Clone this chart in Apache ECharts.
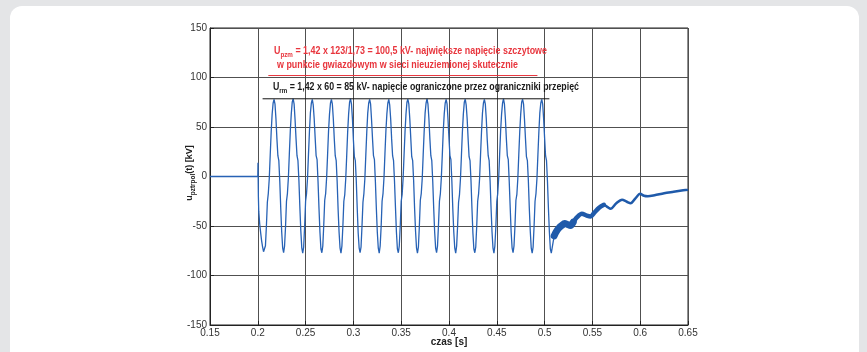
<!DOCTYPE html>
<html><head><meta charset="utf-8">
<script src="https://cdn.jsdelivr.net/npm/echarts@6/dist/echarts.min.js"></script>
<style>
html,body{margin:0;padding:0;background:#e4e5e7;overflow:hidden;}
#panel{position:absolute;left:10px;top:6px;width:849px;height:380px;border-radius:12px;background:#fff;}
#c{position:absolute;left:0;top:0;width:867px;height:352px;}
</style>
</head><body><div id="panel"></div><div id="c"></div>
<script>
// ---- data ----
const xMin = 0.15, xMax = 0.65, xStep = 0.05;
const yMin = -150, yMax = 150, yStep = 50;

// flat part and switching spike
const preTimes  = [0.15, 0.2, 0.2002, 0.2006];
const preValues = [0, 0, 14, -20];

// oscillation, sampled every 1 ms starting at 0.201 s
const waveStart = 0.201, waveStep = 0.001;
const waveValues = [
  -35,-48,-57,-65,-71,-76,
  -77.5,-70,-50,-26,-17,-2,22,45,63,74, 78,73,58,38,21,16,-5,-32,-56,-72,
  -77,-70,-51,-25,-17,-1,23,46,63,75, 78.5,73,57,38,21,16,-4,-31,-55,-72,
  -77.5,-71,-50,-25,-17,-2,22,45,64,74, 78,72,58,39,21,17,-5,-32,-56,-73,
  -77,-70,-49,-24,-17,-1,22,46,63,74, 78,73,58,38,21,16,-5,-33,-56,-72,
  -77.5,-70,-50,-25,-18,-2,21,45,63,75, 78.5,73,58,37,20,16,-4,-32,-57,-72,
  -77,-71,-50,-26,-17,-2,22,45,64,74, 78,73,57,38,21,17,-5,-32,-56,-72,
  -77.5,-70,-51,-25,-17,-1,23,46,63,74, 78,72,58,38,21,16,-5,-31,-56,-73,
  -77,-70,-50,-25,-18,-2,22,45,63,75, 78,73,58,39,20,16,-4,-32,-55,-72,
  -77.5,-71,-50,-24,-17,-2,22,45,64,74, 78.5,73,58,38,21,16,-5,-32,-56,-72,
  -77,-70,-49,-25,-17,-1,22,46,63,74, 78,73,57,38,21,17,-5,-33,-56,-72,
  -77.5,-70,-50,-26,-18,-2,21,45,63,75, 78,72,58,38,20,16,-4,-32,-57,-73,
  -77,-71,-50,-25,-17,-2,22,45,64,74, 78,73,58,37,21,16,-5,-32,-56,-72,
  -77.5,-70,-51,-25,-17,-1,23,46,63,74, 78.5,73,58,38,21,17,-5,-31,-56,-72,
  -77,-70,-50,-24,-18,-2,22,45,63,75, 78,73,57,38,20,16,-4,-32,-55,-72,
  -77.5,-71,-50,-25,-17,-2,22,45,64,74, 78,73,58,39,21,16,-5,-32,-56,-73,
  -77.5,-77,-77
];

// after the switching
const tailTimes  = [0.510,0.512,0.515,0.518,0.521,0.524,0.527,0.530,0.534,0.539,0.544,0.548,0.552,0.557,0.562,0.566,0.569,0.575,0.581,0.586,0.590,0.595,0.600,0.604,0.608,0.615,0.625,0.635,0.645,0.650];
const tailValues = [-60,-56,-52,-49.5,-47.5,-48.5,-49.5,-46,-41,-37.7,-39.5,-40.4,-36.5,-31.5,-28.6,-31,-32.6,-27,-23.5,-25.5,-27,-22,-17.5,-19.5,-20,-19,-17,-15.5,-14,-13.4];
const bandWideEnd = 8, bandMidEnd = 15;

// annotation lines
const urmTimes  = [0.205, 0.505];  const urmValues  = [78.5, 78.5];
const upzmTimes = [0.211, 0.4925]; const upzmValues = [102, 102];

// ---- build ----
const pairs = (ts, vs) => ts.map((t, i) => [t, vs[i]]);
const waveData = pairs(preTimes, preValues)
  .concat(waveValues.map((v, i) => [+(waveStart + i * waveStep).toFixed(4), v]));
waveData.push([tailTimes[0], tailValues[0]]);
const tailData = pairs(tailTimes, tailValues);

const ctx = document.createElement('canvas').getContext('2d');
const FF = "'Liberation Sans', Arial, sans-serif";
function tw(s, size, w) { ctx.font = (w || 'bold') + ' ' + size + 'px ' + FF; return ctx.measureText(s).width; }

const red = '#e8353d';
const r1a = 'U', r1s = 'pzm', r1b = ' = 1,42 x 123/1,73 = 100,5 kV- największe napięcie szczytowe';
const r2 = 'w punkcie gwiazdowym w sieci nieuziemionej skutecznie';
const b1a = 'U', b1s = 'rm', b1b = ' = 1,42 x 60 = 85 kV- napięcie ograniczone przez ograniczniki przepięć';
const sR1 = 273 / (tw(r1a,10) + tw(r1s,7) + tw(r1b,10));
const sR2 = 241 / tw(r2,10);
const sB1 = 306 / (tw(b1a,10) + tw(b1s,7) + tw(b1b,10));

function rich(col) {
  return {
    m: {fontSize: 10, fontWeight: 'bold', fontFamily: FF, fill: col},
    s: {fontSize: 7, fontWeight: 'bold', fontFamily: FF, fill: col, padding: [8, 0, 0, 0]}
  };
}

const chart = echarts.init(document.getElementById('c'), null, {renderer: 'canvas'});
const axisFont = {color: '#333', fontSize: 10, fontFamily: FF};
chart.setOption({
  animation: false,
  backgroundColor: 'transparent',
  grid: {left: 210, right: 179, top: 28, bottom: 27, show: true, borderColor: '#222', borderWidth: 1,
         containLabel: false, outerBoundsMode: 'none'},
  xAxis: {
    type: 'value', min: xMin, max: xMax, interval: xStep,
    axisLine: {show: true, onZero: false, lineStyle: {color: '#222'}},
    axisTick: {inside: true, length: 4, lineStyle: {color: '#222'}},
    axisLabel: Object.assign({margin: 3}, axisFont),
    splitLine: {show: true, lineStyle: {color: '#505050', width: 1}}
  },
  yAxis: {
    type: 'value', min: yMin, max: yMax, interval: yStep,
    axisLine: {show: true, onZero: false, lineStyle: {color: '#222'}},
    axisTick: {inside: true, length: 4, lineStyle: {color: '#222'}},
    axisLabel: Object.assign({margin: 3}, axisFont),
    splitLine: {show: true, lineStyle: {color: '#505050', width: 1}}
  },
  series: [
    {type: 'line', data: waveData, showSymbol: false, lineStyle: {color: '#2762b5', width: 1.3}, z: 3},
    {type: 'line', data: tailData, showSymbol: false, smooth: 0.3, lineStyle: {color: '#1f5aaa', width: 2.5}, z: 3},
    {type: 'line', data: tailData.slice(0, bandMidEnd), showSymbol: false, smooth: 0.3, lineStyle: {color: '#1f5aaa', width: 4.5, cap: 'round'}, z: 3},
    {type: 'line', data: tailData.slice(0, bandWideEnd), showSymbol: false, smooth: 0.3, lineStyle: {color: '#1f5aaa', width: 7, cap: 'round'}, z: 3},
    {type: 'line', data: pairs(urmTimes, urmValues), showSymbol: false, lineStyle: {color: '#111', width: 1}, z: 4},
    {type: 'line', data: pairs(upzmTimes, upzmValues), showSymbol: false, lineStyle: {color: red, width: 1}, z: 4}
  ],
  graphic: [
    {type: 'text', x: 274, y: 51, scaleX: sR1, z: 10,
     style: {text: '{m|' + r1a + '}{s|' + r1s + '}{m|' + r1b + '}', rich: rich(red), verticalAlign: 'middle', align: 'left'}},
    {type: 'text', x: 277, y: 65, scaleX: sR2, z: 10,
     style: {text: '{m|' + r2 + '}', rich: rich(red), verticalAlign: 'middle', align: 'left'}},
    {type: 'text', x: 273, y: 87, scaleX: sB1, z: 10,
     style: {text: '{m|' + b1a + '}{s|' + b1s + '}{m|' + b1b + '}', rich: rich('#1a1a1a'), verticalAlign: 'middle', align: 'left'}},
    {type: 'text', x: 190, y: 173, rotation: Math.PI / 2, z: 10,
     style: {text: '{m|u}{s|pztrpol}{m|(t) [kV]}', align: 'center', verticalAlign: 'middle',
       rich: {m: {fontSize: 9, fontWeight: 'bold', fontFamily: FF, fill: '#222'},
              s: {fontSize: 6.5, fontWeight: 'bold', fontFamily: FF, fill: '#222', padding: [7, 0, 0, 0]}}}},
    {type: 'text', x: 449, y: 342, z: 10,
     style: {text: 'czas [s]', fill: '#222', font: 'bold 10px ' + FF, align: 'center', verticalAlign: 'middle'}}
  ]
});
</script>
</body></html>
